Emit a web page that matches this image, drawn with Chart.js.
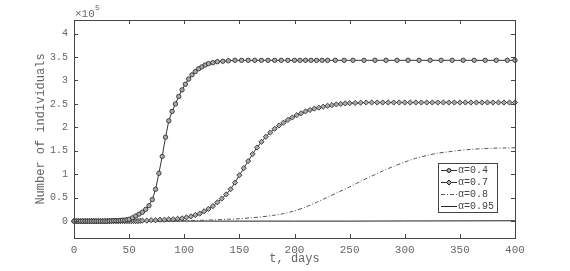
<!DOCTYPE html>
<html>
<head>
<meta charset="utf-8">
<script src="https://cdn.jsdelivr.net/npm/chart.js@4"></script>
<style>
  html, body { margin: 0; padding: 0; background: #fff; }
  #wrap { width: 570px; height: 271px; }
</style>
</head>
<body>
<div id="wrap"><canvas id="myChart" width="570" height="271"></canvas></div>
<script>
// values are in units of 1e5 individuals
const seriesLabels = ['\u03b1=0.4', '\u03b1=0.7', '\u03b1=0.8', '\u03b1=0.95'];

const tA04 = [0,2,4,6,8,10,12,14,16,18,20,22,24,26,28,30,32,34,36,38,40,42,44,46,48,50,
  53,56,59,62,65,68,71,74,77,80,83,86,89,92,95,98,101,104,107,110,113,116,119,122,126,130,135,140,
  146,152,158,164,170,176,182,188,194,200,205,210,215,220,225,230,237,245,253,263,273,283,293,303,
  313,323,333,343,353,363,373,383,393,400];
const vA04 = [0,0,0,0,0,0,0,0,0,0,0,0,0,0,0,0,0.005,0.005,0.01,0.01,0.01,0.015,0.02,0.02,0.03,0.04,
  0.07,0.11,0.15,0.19,0.25,0.33,0.46,0.68,1.02,1.38,1.79,2.14,2.34,2.50,2.66,2.80,2.92,3.03,3.12,3.19,3.25,3.29,3.33,3.36,3.38,3.40,3.41,3.42,
  3.43,3.43,3.43,3.43,3.43,3.43,3.43,3.43,3.43,3.43,3.43,3.43,3.43,3.43,3.43,3.43,3.43,3.43,3.43,3.43,3.43,3.43,3.43,3.43,
  3.43,3.43,3.43,3.43,3.43,3.43,3.43,3.43,3.43,3.43];

const tA07 = [0,2,4,6,8,10,12,14,16,18,20,22,24,26,28,30,32,34,36,38,40,42,44,46,48,50,52,54,56,58,60,
  62,66,70,74,78,82,86,90,94,98,102,106,110,114,118,122,126,130,134,138,142,146,150,154,158,162,166,170,
  174,178,182,186,190,194,198,202,206,210,214,218,222,226,230,234,238,242,246,250,255,260,265,270,275,280,
  285,290,295,300,305,310,315,320,325,330,335,340,345,350,355,360,365,370,375,380,385,390,395,400];
const vA07 = [0,0,0,0,0,0,0,0,0,0,0,0,0,0,0,0,0,0,0,0,0,0,0,0,0,0,0,0,0,0,0.005,
  0.01,0.01,0.02,0.02,0.03,0.03,0.04,0.04,0.05,0.06,0.08,0.10,0.13,0.16,0.21,0.26,0.32,0.40,0.48,0.57,0.68,0.82,0.98,1.13,1.28,1.43,1.57,1.69,
  1.80,1.89,1.97,2.04,2.10,2.16,2.21,2.26,2.30,2.34,2.37,2.40,2.42,2.44,2.46,2.475,2.49,2.50,2.51,2.515,2.52,2.525,2.53,2.53,2.53,2.53,
  2.53,2.53,2.53,2.53,2.53,2.53,2.53,2.53,2.53,2.53,2.53,2.53,2.53,2.53,2.53,2.53,2.53,2.53,2.53,2.53,2.53,2.53,2.53,2.53];

const tA08 = [0,10,20,30,40,50,60,70,80,90,100,110,120,130,140,150,160,170,180,190,200,210,220,230,240,
  250,260,270,280,290,300,310,320,330,340,350,360,370,380,390,400];
const vA08 = [0,0,0,0,0,0,0,0,0.005,0.01,0.01,0.015,0.02,0.03,0.04,0.05,0.07,0.09,0.12,0.16,0.22,0.30,0.40,0.51,0.62,
  0.73,0.85,0.96,1.07,1.17,1.26,1.34,1.40,1.45,1.48,1.51,1.53,1.545,1.555,1.56,1.565];

const tA095 = [0,50,100,150,200,250,300,350,400];
const vA095 = [0,0,0,0,0,0,0.003,0.005,0.008];

const xTicks = [0,50,100,150,200,250,300,350,400];
const yTicks = [0,0.5,1,1.5,2,2.5,3,3.5,4];

function pts(ts, vs) {
  return ts.map((t, i) => ({ x: t, y: vs[i] }));
}

const monoFont = '"Liberation Mono", "DejaVu Sans Mono", monospace';
const lineCol = '#333';
const textCol = '#666';

const boxPlugin = {
  id: 'box',
  afterDraw(chart) {
    const ctx = chart.ctx;
    const a = chart.chartArea;
    const xs = chart.scales.x, ys = chart.scales.y;
    ctx.save();
    ctx.strokeStyle = '#444';
    ctx.lineWidth = 1;
    ctx.strokeRect(Math.round(a.left) + 0.5, Math.round(a.top) + 0.5,
      Math.round(a.right - a.left), Math.round(a.bottom - a.top));
    // inner ticks
    ctx.beginPath();
    xTicks.forEach(v => {
      const px = Math.round(xs.getPixelForValue(v)) + 0.5;
      ctx.moveTo(px, a.bottom); ctx.lineTo(px, a.bottom - 4);
      ctx.moveTo(px, a.top); ctx.lineTo(px, a.top + 4);
    });
    yTicks.forEach(v => {
      const py = Math.round(ys.getPixelForValue(v)) + 0.5;
      ctx.moveTo(a.left, py); ctx.lineTo(a.left + 4, py);
      ctx.moveTo(a.right, py); ctx.lineTo(a.right - 4, py);
    });
    ctx.stroke();

    // exponent label
    ctx.fillStyle = textCol;
    ctx.textBaseline = 'alphabetic';
    ctx.textAlign = 'left';
    ctx.font = '11px ' + monoFont;
    ctx.fillText('\u00d710', a.left + 1, a.top - 3);
    ctx.font = '8px ' + monoFont;
    ctx.fillText('5', a.left + 21, a.top - 10);

    // axis titles
    ctx.font = '12px ' + monoFont;
    ctx.textAlign = 'center';
    ctx.textBaseline = 'middle';
    ctx.fillText('t, days', (a.left + a.right) / 2, 259);
    ctx.save();
    ctx.translate(41, (a.top + a.bottom) / 2);
    ctx.rotate(-Math.PI / 2);
    ctx.fillText('Number of individuals', 0, 0);
    ctx.restore();

    // legend
    const lx = 438, ly = 163, lw = 59, lh = 49;
    ctx.fillStyle = '#fff';
    ctx.fillRect(lx, ly, lw, lh);
    ctx.strokeStyle = '#444';
    ctx.strokeRect(lx + 0.5, ly + 0.5, lw, lh);
    ctx.font = '10px ' + monoFont;
    ctx.textAlign = 'left';
    chart.data.datasets.forEach((ds, i) => {
      const y = Math.round(ly + 7 + i * 12) + 0.5;
      ctx.strokeStyle = ds.borderColor;
      ctx.lineWidth = 1;
      ctx.setLineDash(ds.borderDash || []);
      ctx.beginPath();
      ctx.moveTo(lx + 3, y); ctx.lineTo(lx + 19, y);
      ctx.stroke();
      ctx.setLineDash([]);
      if (ds.pointRadius > 0) {
        ctx.fillStyle = ds.pointBackgroundColor;
        ctx.strokeStyle = ds.pointBorderColor;
        ctx.beginPath();
        if (ds.pointStyle === 'rectRot') {
          const r = 2.5;
          ctx.moveTo(lx + 11, y - r); ctx.lineTo(lx + 11 + r, y);
          ctx.lineTo(lx + 11, y + r); ctx.lineTo(lx + 11 - r, y);
          ctx.closePath();
        } else {
          ctx.arc(lx + 11, y, 2, 0, Math.PI * 2);
        }
        ctx.fill(); ctx.stroke();
      }
      ctx.fillStyle = '#444';
      ctx.textBaseline = 'middle';
      ctx.fillText(ds.label, lx + 20, y);
    });
    ctx.restore();
  }
};

const ctx = document.getElementById('myChart').getContext('2d');
const myChart = new Chart(ctx, {
  type: 'line',
  data: {
    datasets: [
      {
        label: seriesLabels[0], data: pts(tA04, vA04),
        borderColor: lineCol, borderWidth: 1, pointStyle: 'circle', pointRadius: 2.2,
        pointBackgroundColor: '#aaa', pointBorderColor: '#222', pointBorderWidth: 0.8,
        tension: 0, clip: false
      },
      {
        label: seriesLabels[1], data: pts(tA07, vA07),
        borderColor: lineCol, borderWidth: 1, pointStyle: 'rectRot', pointRadius: 2.6,
        pointBackgroundColor: '#aaa', pointBorderColor: '#222', pointBorderWidth: 0.8,
        tension: 0, clip: false
      },
      {
        label: seriesLabels[2], data: pts(tA08, vA08),
        borderColor: '#555', borderWidth: 1, borderDash: [4, 2, 1, 2], pointRadius: 0,
        tension: 0.3, clip: false
      },
      {
        label: seriesLabels[3], data: pts(tA095, vA095),
        borderColor: '#222', borderWidth: 1, pointRadius: 0,
        tension: 0, clip: false
      }
    ]
  },
  options: {
    responsive: false,
    animation: false,
    events: [],
    layout: { padding: { top: 20, right: 55, left: 0, bottom: 0 } },
    plugins: { legend: { display: false }, tooltip: { enabled: false } },
    scales: {
      x: {
        type: 'linear', min: 0, max: 400,
        grid: { display: false, drawTicks: false }, border: { display: false },
        afterBuildTicks: s => { s.ticks = xTicks.map(v => ({ value: v })); },
        afterFit: s => { s.height = 33; },
        ticks: { color: textCol, font: { family: monoFont, size: 11 }, padding: 5, maxRotation: 0 }
      },
      y: {
        type: 'linear', min: -0.36, max: 4.29,
        grid: { display: false, drawTicks: false }, border: { display: false },
        afterBuildTicks: s => { s.ticks = yTicks.map(v => ({ value: v })); },
        afterFit: s => { s.width = 74; },
        ticks: { color: textCol, font: { family: monoFont, size: 10 }, padding: 6,
          callback: v => String(v) }
      }
    }
  },
  plugins: [boxPlugin]
});
</script>
</body>
</html>
